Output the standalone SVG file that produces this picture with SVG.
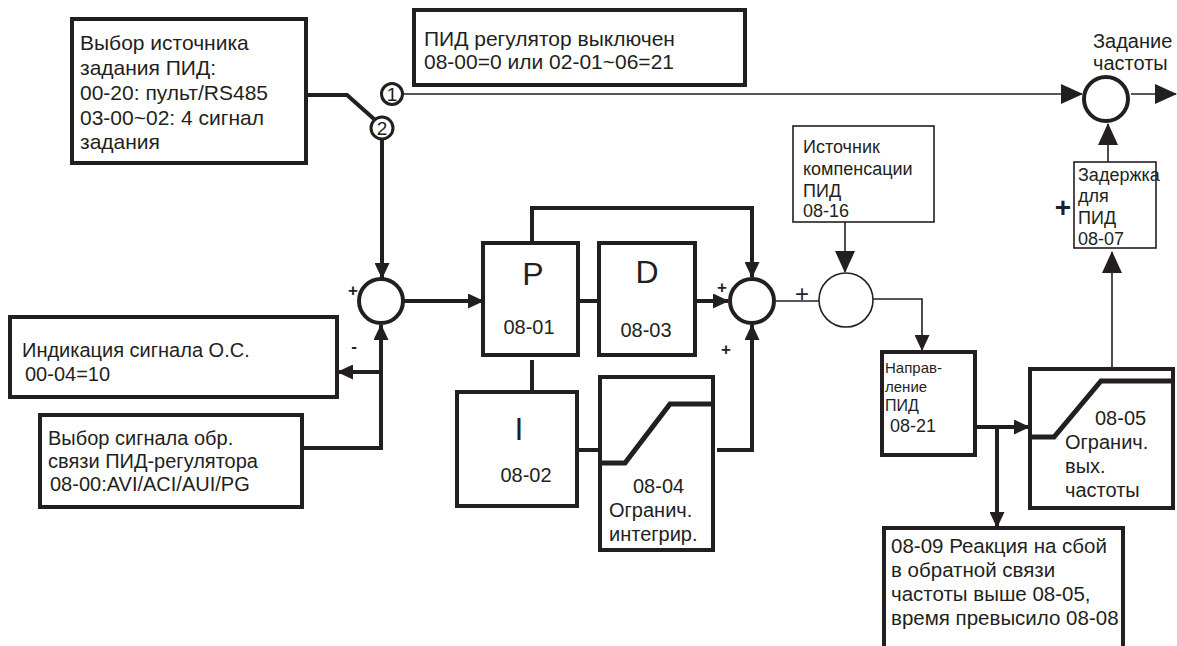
<svg xmlns="http://www.w3.org/2000/svg" width="1177" height="646" viewBox="0 0 1177 646">
<style>
text{font-family:"Liberation Sans",Arial,sans-serif;fill:#231f20}
.t21{font-size:21px}
.t20{font-size:20px}
.t18{font-size:18px}
.bx{fill:#fff;stroke:#231f20;stroke-width:4}
.bt{fill:#fff;stroke:#231f20;stroke-width:1.6}
.ln{fill:none;stroke:#231f20;stroke-width:4}
.th{fill:none;stroke:#231f20;stroke-width:1.6}
.sum{fill:#fff;stroke:#231f20;stroke-width:4}
.big{font-size:32px}
.pl{font-weight:bold;font-size:17px}
.sw{fill:#fff;stroke:#231f20;stroke-width:3}
</style>
<defs>
<marker id="a" markerUnits="userSpaceOnUse" markerWidth="16" markerHeight="15" refX="15" refY="7.5" orient="auto"><path d="M0,0 L16,7.5 L0,15 z" fill="#231f20"/></marker>
<marker id="b" markerUnits="userSpaceOnUse" markerWidth="22" markerHeight="20" refX="21" refY="10" orient="auto"><path d="M0,0 L22,10 L0,20 z" fill="#231f20"/></marker>
</defs>

<g id="connectors">
<path class="ln" d="M305,95 L347,95 L374,119"/>
<path class="ln" d="M382,140 L382,278" marker-end="url(#a)"/>
<path class="th" d="M403,94 L1082,94" marker-end="url(#b)"/>
<path class="th" d="M1131,94 L1176,94" marker-end="url(#b)"/>
<path class="th" d="M1108,162 L1108,124" marker-end="url(#b)"/>
<path class="ln" d="M303,448 L381,448 L381,325" marker-end="url(#a)"/>
<path class="ln" d="M381,372 L338,372" marker-end="url(#a)"/>
<path class="ln" d="M403,301 L483,301" marker-end="url(#a)"/>
<path class="ln" d="M578,301 L599,301"/>
<path class="ln" d="M695,301 L728,301" marker-end="url(#a)"/>
<path class="ln" d="M532,243 L532,208 L752,208 L752,277" marker-end="url(#a)"/>
<path class="ln" d="M532,360 L532,392"/>
<path class="ln" d="M577,450 L600,450"/>
<path class="ln" d="M717,450 L752,450 L752,325" marker-end="url(#a)"/>
<path class="th" d="M776,301 L819,301"/>
<path class="th" d="M845,222 L845,272" marker-end="url(#b)"/>
<path class="th" d="M873,299 L922,299 L922,350" marker-end="url(#a)"/>
<path class="ln" d="M975,427 L1029,427" marker-end="url(#a)"/>
<path class="ln" d="M997,427 L997,527" marker-end="url(#a)"/>
<path class="th" d="M1112,369 L1112,252" marker-end="url(#b)"/>
</g>

<g id="source-box">
<rect class="bx" x="72" y="19" width="234" height="144" stroke-width="3.5"/>
<text class="t21" x="80" y="50">Выбор источника</text>
<text class="t21" x="80" y="75">задания ПИД:</text>
<text class="t21" x="80" y="100">00-20: пульт/RS485</text>
<text class="t21" x="80" y="125">03-00~02: 4 сигнал</text>
<text class="t21" x="80" y="149">задания</text>
</g>

<g id="switch-1">
<circle class="sw" cx="392" cy="94" r="10.5"/>
<text x="392" y="101" font-size="19" text-anchor="middle">1</text>
</g>
<g id="switch-2">
<circle class="sw" cx="382" cy="128" r="11"/>
<text x="382" y="135" font-size="19" text-anchor="middle">2</text>
</g>

<g id="pid-off-box">
<rect class="bx" x="414" y="10" width="331" height="75" stroke-width="3.5"/>
<text class="t21" x="424" y="46">ПИД регулятор выключен</text>
<text class="t21" x="424" y="69">08-00=0 или 02-01~06=21</text>
</g>

<g id="freq-sum">
<text class="t20" x="1093" y="48">Задание</text>
<text class="t20" x="1093" y="70">частоты</text>
<circle class="sum" cx="1106" cy="99" r="22"/>
</g>

<g id="sum-1">
<circle class="sum" cx="381" cy="301" r="22"/>
<text class="pl" x="353" y="296" text-anchor="middle">+</text>
<text class="pl" x="354" y="352" text-anchor="middle">-</text>
</g>

<g id="fb-indication">
<rect class="bx" x="10" y="317" width="327" height="80" stroke-width="3.5"/>
<text class="t20" x="22" y="357">Индикация сигнала О.С.</text>
<text class="t20" x="25" y="381">00-04=10</text>
</g>

<g id="fb-select">
<rect class="bx" x="40" y="415" width="262" height="92" stroke-width="3.5"/>
<text class="t20" x="48" y="445">Выбор сигнала обр.</text>
<text class="t20" x="48" y="468">связи ПИД-регулятора</text>
<text class="t20" x="50" y="491">08-00:AVI/ACI/AUI/PG</text>
</g>

<g id="p-box">
<rect class="bx" x="483" y="243" width="95" height="112"/>
<text class="big" x="533" y="285" text-anchor="middle">P</text>
<text class="t20" x="529" y="334" text-anchor="middle">08-01</text>
</g>

<g id="d-box">
<rect class="bx" x="599" y="243" width="96" height="112"/>
<text class="big" x="647" y="283" text-anchor="middle">D</text>
<text class="t20" x="646" y="337" text-anchor="middle">08-03</text>
</g>

<g id="i-box">
<rect class="bx" x="457" y="392" width="120" height="114"/>
<text class="big" x="519" y="440" text-anchor="middle">I</text>
<text class="t20" x="526" y="482" text-anchor="middle">08-02</text>
</g>

<g id="int-limit">
<rect class="bx" x="600" y="377" width="113" height="173" stroke-width="3.5"/>
<path d="M602,463 L625,463 L670,404 L713,404" fill="none" stroke="#231f20" stroke-width="5"/>
<text class="t20" x="633" y="493">08-04</text>
<text class="t20" x="609" y="517">Огранич.</text>
<text class="t20" x="609" y="541">интегрир.</text>
</g>

<g id="sum-2">
<circle class="sum" cx="752" cy="301" r="22"/>
<text class="pl" x="722" y="293" text-anchor="middle">+</text>
<text class="pl" x="726" y="355" text-anchor="middle">+</text>
</g>

<g id="comp-box">
<rect class="bt" x="793" y="126" width="141" height="96"/>
<text class="t18" x="803" y="153">Источник</text>
<text class="t18" x="803" y="175">компенсации</text>
<text class="t18" x="803" y="197">ПИД</text>
<text class="t18" x="803" y="217">08-16</text>
</g>

<g id="sum-3">
<circle cx="846" cy="300" r="27" fill="#fff" stroke="#231f20" stroke-width="1.6"/>
<text x="802" y="302" font-size="24" text-anchor="middle">+</text>
</g>

<g id="direction-box">
<rect class="bx" x="882" y="352" width="93" height="103" stroke-width="3.5"/>
<text x="885" y="373" font-size="15">Направ-</text>
<text x="885" y="392" font-size="15">ление</text>
<text x="885" y="411" font-size="16">ПИД</text>
<text class="t18" x="890" y="432">08-21</text>
</g>

<g id="out-limit">
<rect class="bx" x="1030" y="369" width="143" height="139" stroke-width="3.5"/>
<path d="M1032,437 L1054,437 L1101,381 L1173,381" fill="none" stroke="#231f20" stroke-width="5"/>
<text class="t20" x="1095" y="425">08-05</text>
<text class="t20" x="1065" y="449">Огранич.</text>
<text class="t20" x="1065" y="473">вых.</text>
<text class="t20" x="1065" y="497">частоты</text>
</g>

<g id="delay-box">
<rect class="bt" x="1074" y="162" width="82" height="86"/>
<text class="t18" x="1078" y="181">Задержка</text>
<text class="t18" x="1078" y="202">для</text>
<text class="t18" x="1078" y="224">ПИД</text>
<text class="t18" x="1078" y="245">08-07</text>
<text x="1063" y="217" font-size="28" font-weight="bold" text-anchor="middle">+</text>
</g>

<g id="fault-box">
<rect class="bx" x="884" y="528" width="239" height="130" stroke-width="3.5"/>
<text x="891" y="553" font-size="20.5">08-09 Реакция на сбой</text>
<text x="891" y="577" font-size="20.5">в обратной связи</text>
<text x="891" y="601" font-size="20.5">частоты выше 08-05,</text>
<text x="891" y="625" font-size="20.5">время превысило 08-08</text>
</g>
</svg>
